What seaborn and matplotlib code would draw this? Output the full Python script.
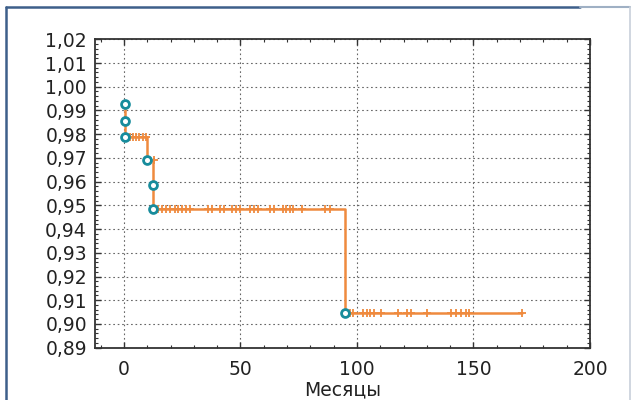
import pandas as pd
import seaborn as sns
import matplotlib.pyplot as plt
from matplotlib.ticker import MultipleLocator, FuncFormatter
from matplotlib.lines import Line2D

# Events (circles) - time in months and survival after the event
event_times = [0.5, 0.5, 0.5, 10, 12.5, 12.5, 95]
event_surv = [0.9927, 0.9856, 0.9788, 0.9691, 0.9586, 0.9486, 0.9045]
last_time = 171

# Censored observations (+) per survival level
cens_979 = [2.5, 4, 5, 6.5, 8, 9.5]
cens_969 = [12.8]
cens_949 = [14.6, 16.3, 18, 19.7, 21.9, 23.1, 24.8, 26.6, 28.3, 36, 37.7, 41.1, 42.8,
            46.3, 48, 49.7, 54, 55.7, 57.4, 62.6, 64.3, 68.1, 69.4, 71.1, 72.4, 76.3,
            86.1, 88.3]
cens_905 = [96.8, 98.5, 102.4, 104.5, 105.8, 107.5, 110.5, 117.4, 121.3, 123.4,
            130.2, 140.5, 142.7, 144.8, 147, 148.2, 171]

curve = pd.DataFrame({'t': event_times + [last_time],
                      's': event_surv + [event_surv[-1]]})
events = pd.DataFrame({'t': event_times, 's': event_surv})
censored = pd.DataFrame({
    't': cens_979 + cens_969 + cens_949 + cens_905,
    's': [0.9788] * len(cens_979) + [0.9691] * len(cens_969)
         + [0.9486] * len(cens_949) + [0.9045] * len(cens_905),
})

sns.set_style("ticks")
plt.rcParams['font.family'] = ['DejaVu Sans']

orange = '#ef8a3e'
teal = '#178c9c'

fig = plt.figure(figsize=(6.32, 4.0), dpi=100)
ax = fig.add_axes([0.1508, 0.1308, 0.9335 - 0.1508, 0.9018 - 0.1308])

sns.lineplot(data=curve, x='t', y='s', drawstyle='steps-post', color=orange,
             lw=1.8, ax=ax, zorder=3, estimator=None, sort=False)
sns.scatterplot(data=censored, x='t', y='s', marker='+', color=orange, s=36,
                linewidth=1.3, ax=ax, zorder=4)
sns.scatterplot(data=events, x='t', y='s', marker='o', facecolor='white',
                edgecolor=teal, linewidth=2, s=32, ax=ax, zorder=5)

ax.set_xlim(-12.3, 200)
ax.set_ylim(0.89, 1.02)
ax.xaxis.set_major_locator(MultipleLocator(50))
ax.xaxis.set_minor_locator(MultipleLocator(10))
ax.yaxis.set_major_locator(MultipleLocator(0.01))
ax.yaxis.set_minor_locator(MultipleLocator(0.002))
ax.yaxis.set_major_formatter(FuncFormatter(lambda v, p: f'{v:.2f}'.replace('.', ',')))

ax.grid(True, which='major', linestyle=(0, (1.5, 2.5)), color='#666666', lw=0.8)
ax.tick_params(which='both', direction='in', top=True, right=True, colors='#333333',
               labelcolor='#222222', labelsize=13.5)
ax.tick_params(which='major', length=4, width=1)
ax.tick_params(which='minor', length=2.5, width=0.8)
ax.tick_params(axis='x', pad=9)
ax.tick_params(axis='y', pad=6)
for sp in ax.spines.values():
    sp.set_color('#333333')
    sp.set_linewidth(1.3)

ax.set_xlabel('Месяцы', fontsize=13.5, color='#222222', labelpad=1)
ax.set_ylabel('')

# frame around the figure
fx0, fx1, fy1 = 5.5 / 632, 630 / 632, 1 - 7 / 400
fig.add_artist(Line2D([fx0, fx0], [0, fy1], color='#3d5f8a', lw=1.8, transform=fig.transFigure))
fig.add_artist(Line2D([fx0, 580 / 632], [fy1, fy1], color='#3d5f8a', lw=1.8, transform=fig.transFigure))
fig.add_artist(Line2D([580 / 632, fx1], [fy1, fy1], color='#9fb0c4', lw=1.5, transform=fig.transFigure))
fig.add_artist(Line2D([fx1, fx1], [0, fy1], color='#c8d0da', lw=1.2, transform=fig.transFigure))

fig.savefig('out.png', dpi=100)
